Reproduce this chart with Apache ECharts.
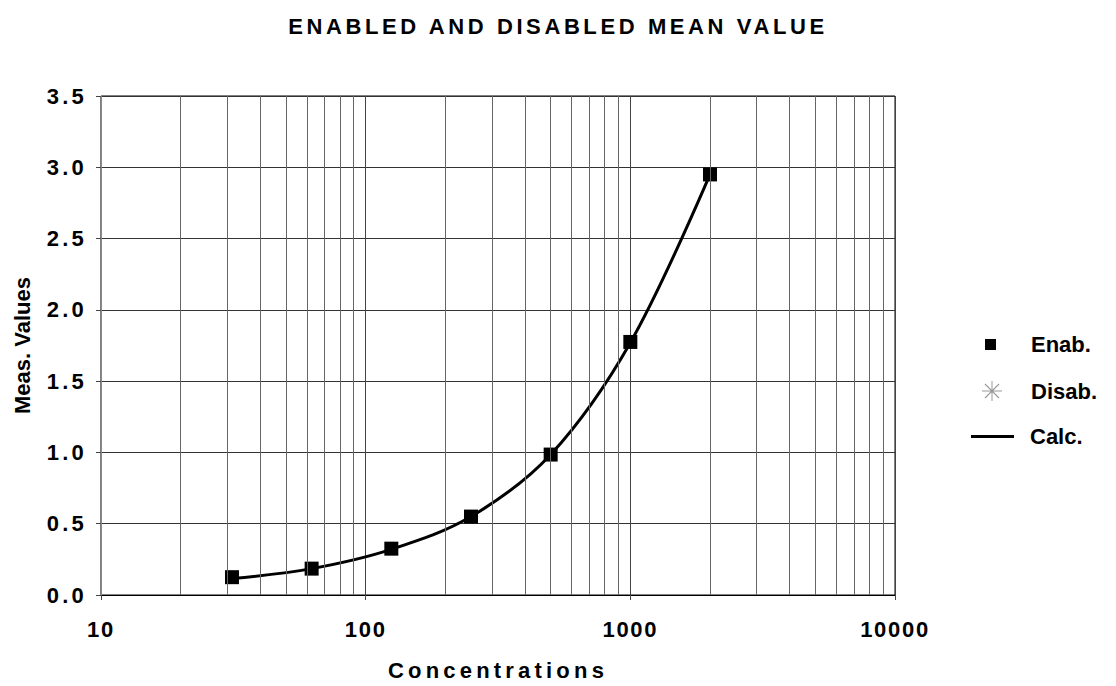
<!DOCTYPE html>
<html><head><meta charset="utf-8">
<script src="https://cdn.jsdelivr.net/npm/echarts@6/dist/echarts.min.js"></script>
<style>html,body{margin:0;padding:0;background:#fff}#c{width:1116px;height:686px}</style>
</head><body><div id="c"></div>
<script>
var concentrations = [31.25, 62.5, 125, 250, 500, 1000, 2000];
var enabValues = [0.125, 0.185, 0.325, 0.55, 0.985, 1.775, 2.95];
var calcValues = [0.115, 0.185, 0.32, 0.55, 0.985, 1.77, 2.95];
var disabValues = [];
var minorTicks = [20,30,40,50,60,70,80,90,200,300,400,500,600,700,800,900,2000,3000,4000,5000,6000,7000,8000,9000];
var xTickLabels = ['10', '100', '1000', '10000'];
var yTickLabels = ['0.0', '0.5', '1.0', '1.5', '2.0', '2.5', '3.0', '3.5'];
var titleText = 'ENABLED AND DISABLED MEAN VALUE';
var xName = 'Concentrations';
var yName = 'Meas. Values';

var FONT = '"Liberation Sans", Arial, sans-serif';
var FS = 22;
var asterisk = 'path://M9.5,0 L10.5,0 L10.5,20 L9.5,20 Z M0,9.5 L20,9.5 L20,10.5 L0,10.5 Z M2.6,3.4 L3.4,2.6 L17.4,16.6 L16.6,17.4 Z M16.6,2.6 L17.4,3.4 L3.4,17.4 L2.6,16.6 Z';
var lineIcon = 'path://M0,0 L43,0 L43,3 L0,3 Z';

var chart = echarts.init(document.getElementById('c'), null, {renderer: 'svg'});
function lt(pad) { return {fontFamily: FONT, fontWeight: 'bold', fontSize: FS, color: '#000', padding: pad}; }
chart.setOption({
  animation: false,
  backgroundColor: '#fff',
  title: {
    text: titleText, left: 'center', top: 15, padding: 0,
    textStyle: {fontFamily: FONT, fontWeight: 'bold', fontSize: FS, color: '#000'}
  },
  grid: {left: 101, right: 221, top: 96, bottom: 87, show: true, borderColor: '#000', borderWidth: 1},
  legend: [
    {data: [{name: 'Enab.', icon: 'rect'}], left: 985, top: 333.5, padding: 0, itemWidth: 11, itemHeight: 11,
     textStyle: lt([4, 0, 0, 30])},
    {data: [{name: 'Disab.', icon: asterisk}], left: 982, top: 380, padding: 0, itemWidth: 20, itemHeight: 20,
     textStyle: lt([0, 0, 0, 24])},
    {data: [{name: 'Calc.', icon: lineIcon}], left: 971, top: 425.5, padding: 0, itemWidth: 43, itemHeight: 3,
     textStyle: lt([4, 0, 0, 11])}
  ],
  xAxis: {
    type: 'log', logBase: 10, min: Number(xTickLabels[0]), max: Number(xTickLabels[xTickLabels.length - 1]),
    name: xName, nameLocation: 'middle', nameGap: 64,
    nameTextStyle: {fontFamily: FONT, fontWeight: 'bold', fontSize: FS, color: '#000'},
    axisLine: {lineStyle: {color: '#000', width: 1}},
    axisTick: {show: true, length: 5, lineStyle: {color: '#444'}},
    axisLabel: {fontFamily: FONT, fontWeight: 'bold', fontSize: FS, color: '#000', margin: 23,
      formatter: function (v) { return String(Math.round(v)); }},
    splitLine: {show: true, lineStyle: {color: '#444', width: 1}}
  },
  yAxis: {
    type: 'value', min: Number(yTickLabels[0]), max: Number(yTickLabels[yTickLabels.length - 1]), interval: 0.5,
    name: yName, nameLocation: 'middle', nameGap: 68, nameRotate: 90,
    nameTextStyle: {fontFamily: FONT, fontWeight: 'bold', fontSize: FS, color: '#000'},
    axisLine: {show: true, lineStyle: {color: '#888', width: 1}},
    axisTick: {show: true, length: 5, lineStyle: {color: '#444'}},
    axisLabel: {fontFamily: FONT, fontWeight: 'bold', fontSize: FS, color: '#000', margin: 14,
      formatter: function (v) { return v.toFixed(1); }},
    splitLine: {show: true, lineStyle: {color: '#333', width: 1}}
  },
  series: [
    {
      name: 'Calc.', type: 'line', smooth: 0.35, symbol: 'none', z: 3,
      data: concentrations.map(function (c, i) { return [c, calcValues[i]]; }),
      lineStyle: {color: '#000', width: 3}, itemStyle: {color: '#000'},
      markLine: {
        silent: true, symbol: 'none', label: {show: false}, animation: false,
        lineStyle: {color: '#666', width: 1, type: 'solid'},
        data: minorTicks.map(function (v) { return {xAxis: v}; })
      }
    },
    {
      name: 'Enab.', type: 'scatter', symbol: 'rect', symbolSize: 14, z: 4,
      data: concentrations.map(function (c, i) { return [c, enabValues[i]]; }),
      itemStyle: {color: '#000', opacity: 1}
    },
    {
      name: 'Disab.', type: 'scatter', symbol: asterisk, symbolSize: 20, z: 4,
      data: disabValues, itemStyle: {color: '#999', opacity: 1}
    }
  ]
});

function spacingFor(s) {
  if (s === titleText) return 3.6;
  if (s === xName) return 4.2;
  if (yTickLabels.indexOf(s) >= 0) return 3.2;
  if (xTickLabels.indexOf(s) >= 0) return 1.7;
  return 0;
}
function applySpacing() {
  var texts = document.querySelectorAll('#c text');
  for (var i = 0; i < texts.length; i++) {
    var sp = spacingFor(texts[i].textContent.trim());
    if (sp) texts[i].style.letterSpacing = sp + 'px';
  }
}
applySpacing();
chart.on('finished', applySpacing);
setTimeout(applySpacing, 50);
setTimeout(applySpacing, 300);
</script></body></html>
